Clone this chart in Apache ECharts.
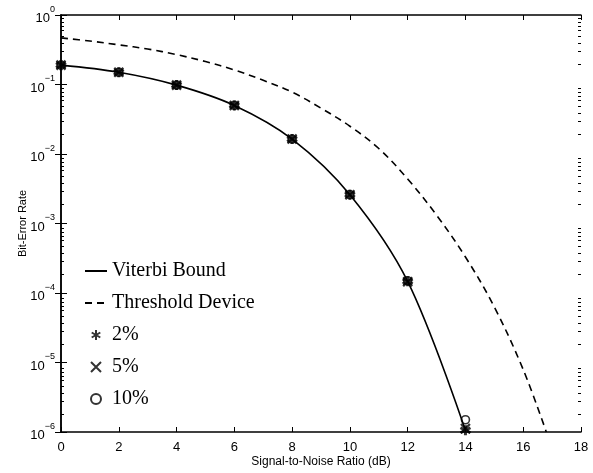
<!DOCTYPE html>
<html>
<head>
<meta charset="utf-8">
<script src="https://cdn.jsdelivr.net/npm/echarts@6/dist/echarts.min.js"></script>
<style>
html, body { margin: 0; padding: 0; background: #fff; }
#chart { width: 593px; height: 473px; }
</style>
</head>
<body>
<div id="chart"></div>
<script>
// values
var boundSnr = [0, 2, 4, 6, 8, 10, 12, 14];
var boundBer = [0.19, 0.15, 0.098, 0.05, 0.0164, 0.0026, 1.47e-4, 1.05e-6];

var thresholdSnr = [0, 1, 2, 3, 4, 5, 6, 7, 8, 9, 10, 11, 12, 13, 14, 15, 16, 16.8];
var thresholdBer = [0.468, 0.422, 0.372, 0.324, 0.269, 0.214, 0.162, 0.115, 0.0776, 0.0457, 0.0251,
	0.012, 0.00437, 0.00132, 3.3e-4, 6.3e-5, 7.9e-6, 1e-6];

var markSnr = [0, 2, 4, 6, 8, 10, 12, 14];
var ber2 = [0.19, 0.15, 0.098, 0.05, 0.0164, 0.0026, 1.47e-4, 1.06e-6];
var ber5 = [0.19, 0.15, 0.098, 0.05, 0.0164, 0.0026, 1.45e-4, 1.12e-6];
var ber10 = [0.19, 0.15, 0.098, 0.05, 0.0164, 0.0026, 1.5e-4, 1.5e-6];

var yTicks = [1e-6, 1e-5, 1e-4, 1e-3, 1e-2, 1e-1, 1];

function pairs(xs, ys) {
	return xs.map(function (x, i) { return [x, ys[i]]; });
}

// minor ticks 2..9 in every decade
var minorTicks = [];
yTicks.slice(0, -1).forEach(function (d) {
	for (var k = 2; k < 10; k++) minorTicks.push(d * k);
});

var asterisk = 'path://M5,0L5,10M0.7,2.5L9.3,7.5M0.7,7.5L9.3,2.5';
var cross = 'path://M0,0L10,10M10,0L0,10';

var chart = echarts.init(document.getElementById('chart'));

var gridBox = { left: 61, right: 12, top: 15, bottom: 38 };

function yAxis(extra) {
	return Object.assign({
		type: 'log',
		logBase: 10,
		min: 1e-6,
		max: 1,
		splitLine: { show: false },
		axisLine: { show: true, lineStyle: { color: '#000', width: 1.5 } },
		axisLabel: { show: false }
	}, extra);
}

function xAxis(extra) {
	return Object.assign({
		type: 'value',
		min: 0,
		max: 18,
		interval: 2,
		splitLine: { show: false },
		axisLine: { lineStyle: { color: '#000', width: 1.5 } },
		axisLabel: { show: false }
	}, extra);
}

function ticks(values, len) {
	return { show: true, inside: true, length: len, customValues: values, lineStyle: { color: '#000' } };
}

var option = {
	animation: false,
	backgroundColor: '#fff',
	grid: [Object.assign({}, gridBox), Object.assign({}, gridBox)],
	legend: {
		orient: 'vertical',
		left: 79,
		top: 256,
		itemWidth: 22,
		itemHeight: 10,
		itemGap: 12,
		textStyle: { fontFamily: 'Liberation Serif', fontSize: 20, lineHeight: 20, color: '#000' },
		data: [
			{ name: 'Viterbi Bound', itemStyle: { opacity: 0 } },
			{ name: 'Threshold Device', itemStyle: { opacity: 0 } },
			{ name: '2%', icon: asterisk },
			{ name: '5%', icon: cross },
			{ name: '10%', icon: 'circle' }
		]
	},
	xAxis: [
		xAxis({
			gridIndex: 0,
			position: 'bottom',
			name: 'Signal-to-Noise Ratio (dB)',
			nameLocation: 'middle',
			nameGap: 24,
			nameMoveOverlap: false,
			nameTextStyle: { fontFamily: 'Liberation Sans', fontSize: 12, color: '#000' },
			axisTick: { show: true, inside: true, length: 5, lineStyle: { color: '#000' } },
			axisLabel: { show: true, color: '#000', fontFamily: 'Liberation Sans', fontSize: 13, margin: 9 }
		}),
		xAxis({
			gridIndex: 0,
			position: 'top',
			axisTick: { show: true, inside: true, length: 5, lineStyle: { color: '#000' } }
		}),
		xAxis({ gridIndex: 1, position: 'bottom', axisLine: { show: false }, axisTick: { show: false } })
	],
	yAxis: [
		yAxis({
			gridIndex: 0,
			position: 'left',
			name: 'Bit-Error Rate',
			nameLocation: 'middle',
			nameGap: 33,
			nameMoveOverlap: false,
			nameTextStyle: { fontFamily: 'Liberation Sans', fontSize: 11, color: '#000' },
			axisTick: ticks(yTicks, 6),
			axisLabel: {
				show: true,
				customValues: yTicks,
				margin: 6,
				formatter: function (v) {
					var e = Math.round(Math.log10(v));
					return '{b|10}{e|' + (e < 0 ? '\u2212' + (-e) : e) + '}';
				},
				rich: {
					b: { fontFamily: 'Liberation Sans', fontSize: 13, color: '#000', verticalAlign: 'bottom', lineHeight: 20 },
					e: { fontFamily: 'Liberation Sans', fontSize: 9, color: '#000', verticalAlign: 'top', lineHeight: 20 }
				}
			}
		}),
		yAxis({ gridIndex: 0, position: 'right', axisTick: ticks(yTicks, 6) }),
		// minor ticks from a second copy of the grid
		yAxis({ gridIndex: 1, position: 'left', axisLine: { show: false }, axisTick: ticks(minorTicks, 3) }),
		yAxis({ gridIndex: 1, position: 'right', axisLine: { show: false }, axisTick: ticks(minorTicks, 3) })
	],
	series: [{
		name: 'Viterbi Bound',
		type: 'line',
		smooth: 0.35,
		symbol: 'none',
		data: pairs(boundSnr, boundBer),
		lineStyle: { color: '#000', width: 1.6 },
		itemStyle: { color: '#000' }
	}, {
		name: 'Threshold Device',
		type: 'line',
		smooth: 0.35,
		symbol: 'none',
		data: pairs(thresholdSnr, thresholdBer),
		lineStyle: { color: '#000', width: 1.6, type: [7, 5] },
		itemStyle: { color: '#000' }
	}, {
		name: '2%',
		type: 'scatter',
		symbol: asterisk,
		symbolSize: 10,
		data: pairs(markSnr, ber2),
		itemStyle: { color: '#000', borderColor: '#000', borderWidth: 3 }
	}, {
		name: '5%',
		type: 'scatter',
		symbol: cross,
		symbolSize: 9,
		data: pairs(markSnr, ber5),
		itemStyle: { color: '#000', borderColor: '#000', borderWidth: 2.2 }
	}, {
		name: '10%',
		type: 'scatter',
		symbol: 'circle',
		symbolSize: 8,
		data: pairs(markSnr, ber10),
		itemStyle: { color: 'rgba(0,0,0,0)', borderColor: '#000', borderWidth: 1.6 }
	}]
};

chart.setOption(option);
</script>
</body>
</html>
